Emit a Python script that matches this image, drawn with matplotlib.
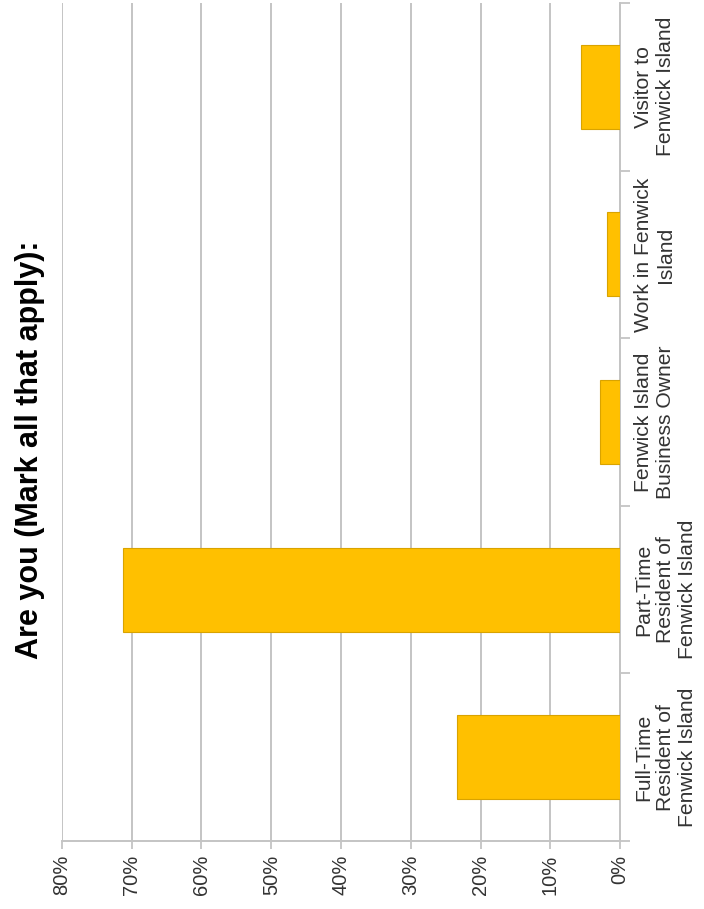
import matplotlib
matplotlib.use("Agg")
import matplotlib.pyplot as plt
from matplotlib.ticker import FixedLocator, PercentFormatter

plt.rcParams['font.family'] = ['Liberation Sans', 'DejaVu Sans']

categories = [
    "Full-Time\nResident of\nFenwick Island",
    "Part-Time\nResident of\nFenwick Island",
    "Fenwick Island\nBusiness Owner",
    "Work in Fenwick\nIsland",
    "Visitor to\nFenwick Island",
]
values = [23.4, 71.3, 2.9, 1.8, 5.6]  # percent of respondents
value_ticks = [0, 10, 20, 30, 40, 50, 60, 70, 80]
title = "Are you (Mark all that apply):"

bar_color = "#FFC000"
edge_color = "#D9A300"
grid_color = "#C4C4C4"
text_color = "#333333"

fig = plt.figure(figsize=(7.04, 9.09), dpi=100)
ax = fig.add_axes([62 / 704, 68 / 909, 558 / 704, 838 / 909])

pos = list(range(len(categories)))
ax.barh(pos, values, height=0.5, color=bar_color, edgecolor=edge_color,
        linewidth=0.8, zorder=3)

# value axis runs right-to-left along the bottom
ax.set_xlim(80, 0)
ax.set_xticks(value_ticks)
ax.xaxis.set_major_formatter(PercentFormatter(decimals=0))
ax.tick_params(axis='x', length=6, width=1.3, color=grid_color, pad=4,
               labelsize=14.5, labelcolor=text_color, labelrotation=90)
ax.grid(axis='x', color=grid_color, linewidth=1.4, zorder=0)

# category axis on the right, boundaries marked with minor ticks
ax.set_ylim(-0.5, len(categories) - 0.5)
ax.yaxis.tick_right()
ax.set_yticks(pos)
ax.set_yticklabels(categories, rotation=90, va='center', ha='left',
                   multialignment='center')
ax.yaxis.set_minor_locator(FixedLocator([p - 0.5 for p in range(len(categories) + 1)]))
ax.tick_params(axis='y', which='major', length=0, pad=10,
               labelsize=15.2, labelcolor=text_color)
ax.tick_params(axis='y', which='minor', length=7, width=1.3, color=grid_color,
               right=True, left=False)

for side in ('top', 'left'):
    ax.spines[side].set_visible(False)
for side in ('right', 'bottom'):
    ax.spines[side].set_color(grid_color)
    ax.spines[side].set_linewidth(1.4)

fig.text(30 / 704, 1 - 450 / 909, title, rotation=90, ha='center', va='center',
         fontsize=22, fontweight='bold', color='black')

fig.savefig("out.png", dpi=100)
